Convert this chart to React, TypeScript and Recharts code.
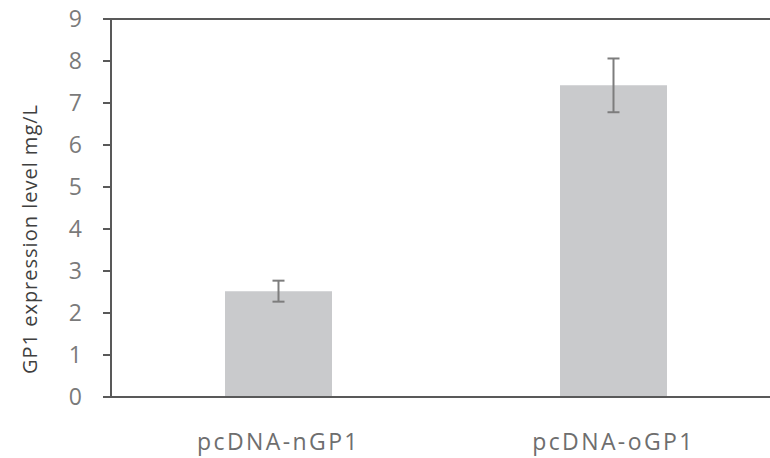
import React from "react";
import { BarChart, Bar, XAxis, YAxis, ErrorBar, ReferenceLine } from "recharts";

const constructs = ["pcDNA-nGP1", "pcDNA-oGP1"];
const expression = [2.52, 7.42];
const sd = [0.25, 0.64];
const yTicks = [0, 1, 2, 3, 4, 5, 6, 7, 8, 9];

const data = constructs.map((name, i) => ({ name, value: expression[i], err: sd[i] }));

const FONT = "'Open Sans', sans-serif";
const AXIS = "#595959";

const XTick = (props: any) => {
  const { x, payload } = props;
  return (
    <text x={x} y={441} textAnchor="middle" dominantBaseline="central"
      fontFamily={FONT} fontSize={23} fill="#6e6e6e" letterSpacing={2.4}>
      {payload.value}
    </text>
  );
};

export default function App() {
  return (
    <div style={{ position: "absolute", left: 0, top: 0, width: 770, height: 458, overflow: "hidden", background: "#fff" }}>
      <BarChart width={790} height={458} data={data}
        margin={{ top: 19, right: 9, bottom: 0, left: 0 }}>
        <XAxis dataKey="name" height={61} tickLine={false} tick={<XTick />}
          axisLine={{ stroke: AXIS, strokeWidth: 2 }} />
        <YAxis width={111} domain={[0, 9]} ticks={yTicks} interval={0}
          tickSize={8} tickMargin={21}
          tickLine={{ stroke: AXIS, strokeWidth: 2 }}
          axisLine={{ stroke: AXIS, strokeWidth: 2 }}
          tick={{ fontFamily: FONT, fontSize: 23, fill: "#7a7a7a" }} />
        <ReferenceLine y={9} stroke={AXIS} strokeWidth={2} />
        <Bar dataKey="value" fill="#c9cacc" barSize={107} isAnimationActive={false}>
          <ErrorBar dataKey="err" width={6} stroke="#7d7d7d" strokeWidth={2} isAnimationActive={false} />
        </Bar>
        <text x={29} y={239} transform="rotate(-90 29 239)" textAnchor="middle"
          dominantBaseline="central" fontFamily={FONT} fontSize={20} fill="#3f3f3f"
          letterSpacing={1}>
          GP1 expression level mg/L
        </text>
      </BarChart>
    </div>
  );
}
